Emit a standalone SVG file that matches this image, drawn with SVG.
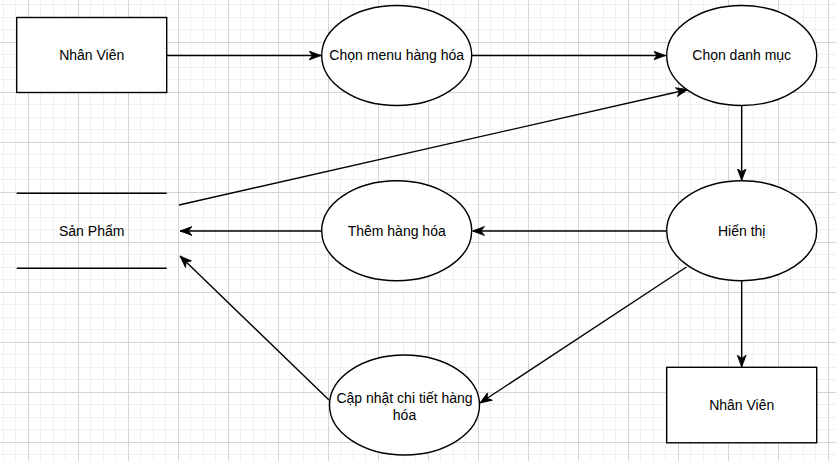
<svg xmlns="http://www.w3.org/2000/svg" width="836" height="461" viewBox="0 0 836 461">
<style>
.shape{fill:#fff;stroke:#000;stroke-width:1.4}
.lbl{font-family:"Liberation Sans",Arial,sans-serif;font-size:14px;fill:#000;text-anchor:middle}
.edge{fill:none;stroke:#000;stroke-width:1.4;marker-end:url(#arr)}
.sep{stroke:#000;stroke-width:1.4}
</style>
<defs>
<pattern id="grid" patternUnits="userSpaceOnUse" x="28" y="42" width="50" height="50">
<path d="M12.5 0V50M25.5 0V50M37.5 0V50M0 12.5H50M0 25.5H50M0 37.5H50" stroke="#f0f0f0" stroke-width="1" fill="none"/>
<path d="M0.5 0V50M0 0.5H50" stroke="#d5d5d5" stroke-width="1" fill="none"/>
</pattern>
<marker id="arr" markerUnits="userSpaceOnUse" viewBox="0 0 12 10" refX="12" refY="5" markerWidth="12" markerHeight="10" orient="auto">
<path d="M12 5L0 0.5L3.5 5L0 9.5Z" fill="#000" stroke="#000" stroke-width="0.8"/>
</marker>
</defs>
<rect width="836" height="461" fill="#fff"/>
<rect width="836" height="461" fill="url(#grid)"/>
<g id="connectors">
<path class="edge" d="M166.7 55.5H321"/>
<path class="edge" d="M471.7 55.5H665.5"/>
<path class="edge" d="M741.7 105.5V180.5"/>
<path class="edge" d="M666.7 231H472.5"/>
<path class="edge" d="M321.7 231H180"/>
<path class="edge" d="M686.5 267L480 403"/>
<path class="edge" d="M329 400L180 256"/>
<path class="edge" d="M179 205L688 89.5"/>
<path class="edge" d="M741.7 281V367"/>
</g>
<g id="nhanvien1">
<rect class="shape" x="16.7" y="17.5" width="150" height="75"/>
<text class="lbl" x="91.7" y="60">Nhân Viên</text>
</g>
<g id="chonmenu">
<ellipse class="shape" cx="396.7" cy="55.5" rx="75" ry="50"/>
<text class="lbl" x="396.7" y="60">Chọn menu hàng hóa</text>
</g>
<g id="chondanhmuc">
<ellipse class="shape" cx="741.7" cy="55.5" rx="75" ry="50"/>
<text class="lbl" x="741.7" y="60">Chọn danh mục</text>
</g>
<g id="sanpham">
<line class="sep" x1="16.7" y1="193.3" x2="166.7" y2="193.3"/>
<line class="sep" x1="16.7" y1="268.3" x2="166.7" y2="268.3"/>
<text class="lbl" x="91.7" y="236">Sản Phẩm</text>
</g>
<g id="themhanghoa">
<ellipse class="shape" cx="396.7" cy="230.7" rx="75" ry="50"/>
<text class="lbl" x="396.7" y="236">Thêm hàng hóa</text>
</g>
<g id="hienthi">
<ellipse class="shape" cx="741.7" cy="230.7" rx="75" ry="50"/>
<text class="lbl" x="741.7" y="236">Hiển thị</text>
</g>
<g id="capnhat">
<ellipse class="shape" cx="404.5" cy="405" rx="75" ry="50"/>
<text class="lbl" x="404.5" y="403">Cập nhật chi tiết hàng</text>
<text class="lbl" x="404.5" y="420">hóa</text>
</g>
<g id="nhanvien2">
<rect class="shape" x="666.7" y="367.3" width="150" height="75.5"/>
<text class="lbl" x="741.7" y="410">Nhân Viên</text>
</g>
</svg>
